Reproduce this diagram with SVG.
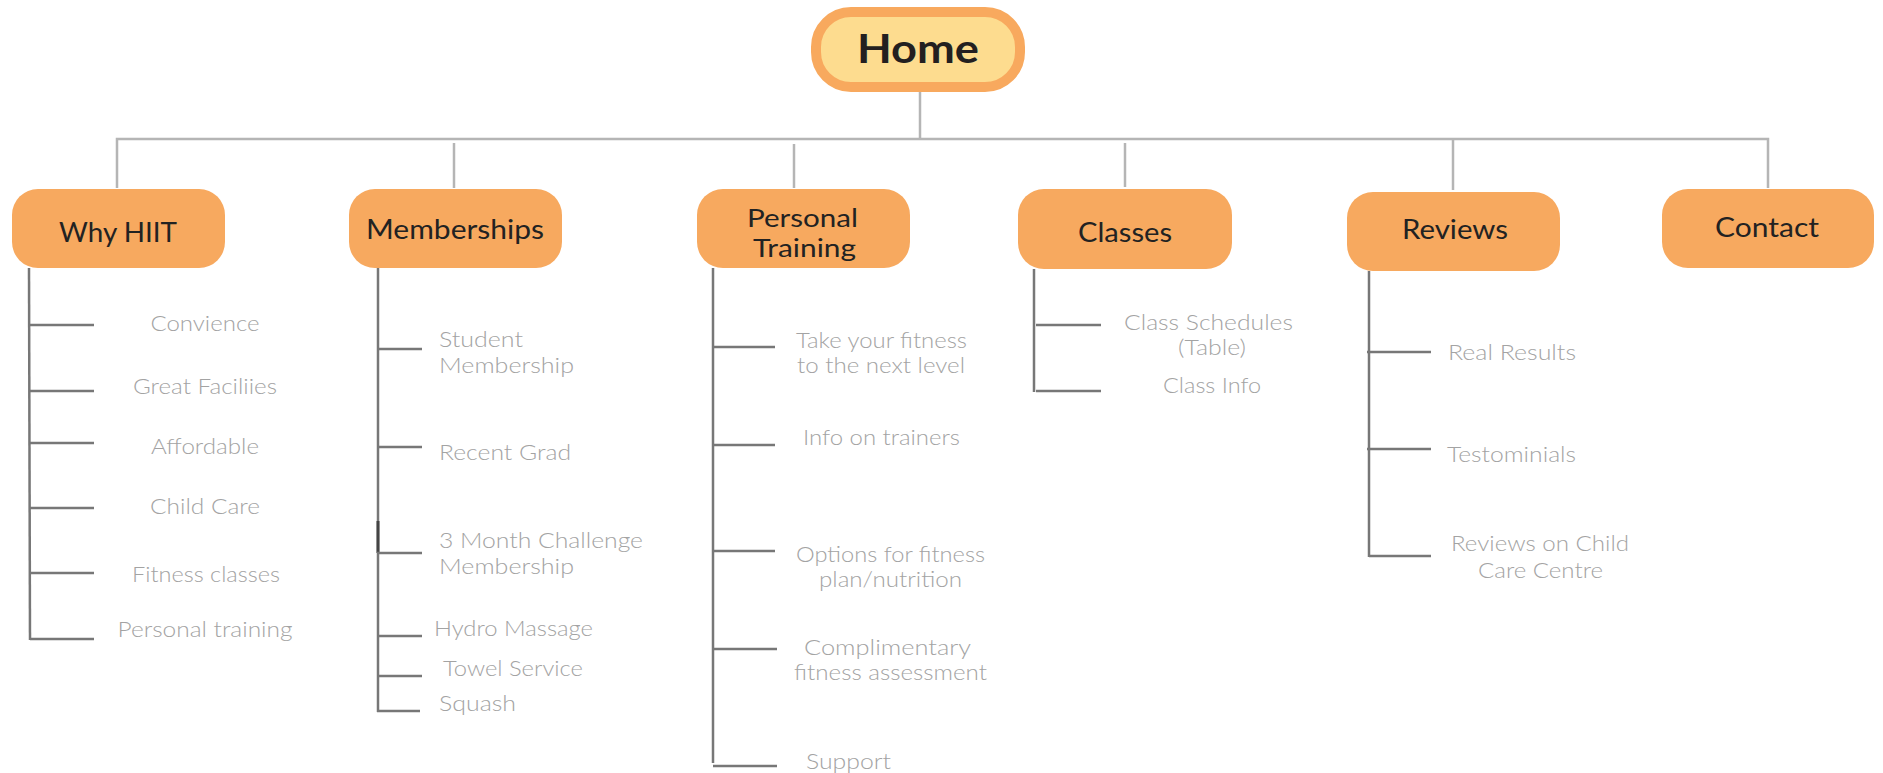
<svg xmlns="http://www.w3.org/2000/svg" width="1883" height="773" viewBox="0 0 1883 773">
  <style>
    .box { fill: #F7A95F; }
    .home { fill: #FDDC8F; stroke: #F8A95E; stroke-width: 10; }
    .label { font-family: Lato, "Open Sans", "Liberation Sans", sans-serif; font-weight: 400; font-size: 27px; fill: #222222; }
    .label2 { font-size: 25px; }
    .title { font-family: Lato, "Open Sans", "Liberation Sans", sans-serif; font-weight: 700; font-size: 40px; fill: #231F20; }
    .item { font-family: "Lato Light", Lato, "Open Sans", "Liberation Sans", sans-serif; font-weight: 300; font-size: 22px; fill: #A3A3A3; }
    .trunk { stroke: #B5B5B5; stroke-width: 2.5; fill: none; }
    .branch { stroke: #777777; stroke-width: 2.5; fill: none; }
  </style>
  <rect width="1883" height="773" fill="#FFFFFF"/>

  <g id="connectors">
    <!-- top level tree -->
    <line class="trunk" x1="920" y1="90" x2="920" y2="139"/>
    <polyline class="trunk" points="117,188 117,139 1768,139 1768,188"/>
    <line class="trunk" x1="454" y1="143" x2="454" y2="188"/>
    <line class="trunk" x1="794" y1="144" x2="794" y2="188"/>
    <line class="trunk" x1="1125" y1="143" x2="1125" y2="187"/>
    <line class="trunk" x1="1453" y1="139" x2="1453" y2="190"/>

    <!-- Why HIIT branch -->
    <line class="branch" x1="29" y1="268" x2="30" y2="640"/>
    <line class="branch" x1="29" y1="325" x2="94" y2="325"/>
    <line class="branch" x1="29" y1="391" x2="94" y2="391"/>
    <line class="branch" x1="29" y1="443" x2="94" y2="443"/>
    <line class="branch" x1="29" y1="508" x2="94" y2="508"/>
    <line class="branch" x1="30" y1="573" x2="94" y2="573"/>
    <line class="branch" x1="30" y1="639" x2="94" y2="639"/>

    <!-- Memberships branch -->
    <line class="branch" x1="378" y1="268" x2="378" y2="712"/>
    <line x1="378" y1="521" x2="378" y2="553" stroke="#444444" stroke-width="3"/>
    <line class="branch" x1="377" y1="349" x2="422" y2="349"/>
    <line class="branch" x1="377" y1="447" x2="422" y2="447"/>
    <line class="branch" x1="377" y1="553" x2="422" y2="553"/>
    <line class="branch" x1="377" y1="636" x2="422" y2="636"/>
    <line class="branch" x1="377" y1="676" x2="422" y2="676"/>
    <line class="branch" x1="377" y1="711" x2="420" y2="711"/>

    <!-- Personal Training branch -->
    <line class="branch" x1="713" y1="268" x2="713" y2="763"/>
    <line class="branch" x1="712" y1="347" x2="775" y2="347"/>
    <line class="branch" x1="712" y1="445" x2="775" y2="445"/>
    <line class="branch" x1="712" y1="551" x2="775" y2="551"/>
    <line class="branch" x1="713" y1="649" x2="777" y2="649"/>
    <line class="branch" x1="713" y1="766" x2="777" y2="766"/>

    <!-- Classes branch -->
    <line class="branch" x1="1034" y1="269" x2="1034" y2="392"/>
    <line class="branch" x1="1036" y1="325" x2="1101" y2="325"/>
    <line class="branch" x1="1036" y1="391" x2="1101" y2="391"/>

    <!-- Reviews branch -->
    <line class="branch" x1="1369" y1="271" x2="1369" y2="557"/>
    <line class="branch" x1="1367" y1="352" x2="1431" y2="352"/>
    <line class="branch" x1="1367" y1="449" x2="1431" y2="449"/>
    <line class="branch" x1="1369" y1="556" x2="1431" y2="556"/>
  </g>

  <g id="home">
    <rect class="home" x="816" y="12" width="204" height="75" rx="35"/>
    <text class="title" x="857" y="63" textLength="122" lengthAdjust="spacingAndGlyphs">Home</text>
  </g>

  <g id="why-hiit">
    <rect class="box" x="12" y="189" width="213" height="79" rx="26"/>
    <text class="label" x="59" y="242" textLength="118" lengthAdjust="spacingAndGlyphs">Why HIIT</text>
    <g class="item" text-anchor="middle">
      <text x="205" y="331" textLength="109" lengthAdjust="spacingAndGlyphs">Convience</text>
      <text x="205" y="394" textLength="144" lengthAdjust="spacingAndGlyphs">Great Faciliies</text>
      <text x="205" y="454" textLength="108" lengthAdjust="spacingAndGlyphs">Affordable</text>
      <text x="205" y="514" textLength="110" lengthAdjust="spacingAndGlyphs">Child Care</text>
      <text x="206" y="582" textLength="148" lengthAdjust="spacingAndGlyphs">Fitness classes</text>
      <text x="205" y="637" textLength="175" lengthAdjust="spacingAndGlyphs">Personal training</text>
    </g>
  </g>

  <g id="memberships">
    <rect class="box" x="349" y="189" width="213" height="79" rx="26"/>
    <text class="label" x="366" y="239" textLength="178" lengthAdjust="spacingAndGlyphs">Memberships</text>
    <g class="item">
      <text x="439" y="347" textLength="84" lengthAdjust="spacingAndGlyphs">Student</text>
      <text x="439" y="373" textLength="135" lengthAdjust="spacingAndGlyphs">Membership</text>
      <text x="439" y="460" textLength="132" lengthAdjust="spacingAndGlyphs">Recent Grad</text>
      <text x="439" y="548" textLength="204" lengthAdjust="spacingAndGlyphs">3 Month Challenge</text>
      <text x="439" y="574" textLength="135" lengthAdjust="spacingAndGlyphs">Membership</text>
      <text x="434" y="636" textLength="159" lengthAdjust="spacingAndGlyphs">Hydro Massage</text>
      <text x="443" y="676" textLength="140" lengthAdjust="spacingAndGlyphs">Towel Service</text>
      <text x="439" y="711" textLength="77" lengthAdjust="spacingAndGlyphs">Squash</text>
    </g>
  </g>

  <g id="personal-training">
    <rect class="box" x="697" y="189" width="213" height="79" rx="26"/>
    <text class="label label2" x="747" y="227" textLength="111" lengthAdjust="spacingAndGlyphs">Personal</text>
    <text class="label label2" x="753" y="257" textLength="103" lengthAdjust="spacingAndGlyphs">Training</text>
    <g class="item">
      <text x="796" y="348" textLength="171" lengthAdjust="spacingAndGlyphs">Take your fitness</text>
      <text x="797" y="373" textLength="168" lengthAdjust="spacingAndGlyphs">to the next level</text>
      <text x="803" y="445" textLength="157" lengthAdjust="spacingAndGlyphs">Info on trainers</text>
      <text x="796" y="562" textLength="189" lengthAdjust="spacingAndGlyphs">Options for fitness</text>
      <text x="819" y="587" textLength="143" lengthAdjust="spacingAndGlyphs">plan/nutrition</text>
      <text x="804" y="655" textLength="167" lengthAdjust="spacingAndGlyphs">Complimentary</text>
      <text x="794" y="680" textLength="193" lengthAdjust="spacingAndGlyphs">fitness assessment</text>
      <text x="806" y="769" textLength="85" lengthAdjust="spacingAndGlyphs">Support</text>
    </g>
  </g>

  <g id="classes">
    <rect class="box" x="1018" y="189" width="214" height="80" rx="26"/>
    <text class="label" x="1078" y="242" textLength="94" lengthAdjust="spacingAndGlyphs">Classes</text>
    <g class="item">
      <text x="1124" y="330" textLength="169" lengthAdjust="spacingAndGlyphs">Class Schedules</text>
      <text x="1178" y="355" textLength="68" lengthAdjust="spacingAndGlyphs">(Table)</text>
      <text x="1163" y="393" textLength="98" lengthAdjust="spacingAndGlyphs">Class Info</text>
    </g>
  </g>

  <g id="reviews">
    <rect class="box" x="1347" y="192" width="213" height="79" rx="26"/>
    <text class="label" x="1402" y="239" textLength="106" lengthAdjust="spacingAndGlyphs">Reviews</text>
    <g class="item">
      <text x="1448" y="360" textLength="128" lengthAdjust="spacingAndGlyphs">Real Results</text>
      <text x="1447" y="462" textLength="129" lengthAdjust="spacingAndGlyphs">Testominials</text>
      <text x="1451" y="551" textLength="178" lengthAdjust="spacingAndGlyphs">Reviews on Child</text>
      <text x="1478" y="578" textLength="125" lengthAdjust="spacingAndGlyphs">Care Centre</text>
    </g>
  </g>

  <g id="contact">
    <rect class="box" x="1662" y="189" width="212" height="79" rx="26"/>
    <text class="label" x="1715" y="237" textLength="104" lengthAdjust="spacingAndGlyphs">Contact</text>
  </g>
</svg>
